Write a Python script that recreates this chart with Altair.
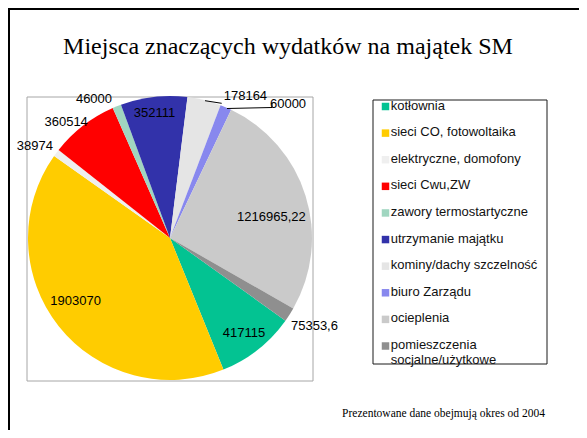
import math
import altair as alt
import pandas as pd

# ---- data ----
categories = ["kotłownia", "sieci CO, fotowoltaika", "elektryczne, domofony", "sieci Cwu,ZW",
              "zawory termostartyczne", "utrzymanie majątku", "kominy/dachy szczelność",
              "biuro Zarządu", "ocieplenia", "pomieszczenia socjalne/użytkowe"]
values = [417115, 1903070, 38974, 360514, 46000, 352111, 178164, 60000, 1216965.22, 75353.6]
legend_labels = ["kotłownia", "sieci CO, fotowoltaika", "elektryczne, domofony", "sieci Cwu,ZW",
                 "zawory termostartyczne", "utrzymanie majątku", "kominy/dachy szczelność",
                 "biuro Zarządu", "ocieplenia", "pomieszczenia\nsocjalne/użytkowe"]
colors = ["#03C392", "#FFCC00", "#EFEFEF", "#FF0000", "#A0D6C0",
          "#3232AA", "#E5E5E5", "#8888EE", "#CACACA", "#8F8F8F"]
value_labels = [str(v).replace(".", ",") for v in values]

title_text = "Miejsca znaczących wydatków na majątek SM"
footer_text = "Prezentowane dane obejmują okres od 2004"

df = pd.DataFrame({
    "cat": categories,
    "value": values,
    "idx": list(range(len(categories))),
    "label": value_labels,
    "legend": legend_labels,
})
one = pd.DataFrame({"a": [0]})

# ---- layout / style ----
CX, CY, R = 162, 230, 142
START = math.radians(125.6)
FONT = "Liberation Sans"
SERIF = "Liberation Serif"

theta = alt.Theta("value:Q", stack=True,
                  scale=alt.Scale(range=[START, START + 2 * math.pi]))
color = alt.Color("cat:N", scale=alt.Scale(domain=categories, range=colors), legend=None)
order = alt.Order("idx:Q")

# label placement: (radius, dx, dy) per slice index
label_pos = {
    0: (100, 12, 16),
    1: (100, -16, 1),
    2: (155, -11, 1),
    3: (155, -9, 7),
    4: (155, -18, 5),
    5: (100, -4, -26),
    6: (155, 38, 8),
    7: (155, 57, 8),
    8: (100, 6, 9),
    9: (155, 14, 4),
}

layers = []

# outer slide border (top and left)
layers.append(alt.Chart(one).mark_rule(color="black", strokeWidth=2).encode(
    x=alt.value(0), x2=alt.value(571), y=alt.value(1)))
layers.append(alt.Chart(one).mark_rule(color="black", strokeWidth=2).encode(
    x=alt.value(1), y=alt.value(0), y2=alt.value(422)))

# plot area box
layers.append(alt.Chart(one).mark_rect(fillOpacity=0, stroke="#A6A6A6", strokeWidth=1).encode(
    x=alt.value(19), x2=alt.value(305), y=alt.value(89), y2=alt.value(373)))

# pie
layers.append(alt.Chart(df).mark_arc(radius=R).encode(
    theta=theta, color=color, order=order, x=alt.value(CX), y=alt.value(CY)))

# value labels
for i, (rr, dx, dy) in label_pos.items():
    layers.append(alt.Chart(df).mark_text(
        radius=rr, dx=dx, dy=dy, font=FONT, fontSize=13, color="black",
        align="center", baseline="middle").encode(
        theta=theta, order=order, x=alt.value(CX), y=alt.value(CY),
        text=alt.condition(alt.datum.idx == i, alt.Text("label:N"), alt.value(""))))

# leader lines
layers.append(alt.Chart(one).mark_rule(color="black", strokeWidth=1).encode(
    x=alt.value(197), y=alt.value(92.7), x2=alt.value(213.7), y2=alt.value(95.3)))
layers.append(alt.Chart(one).mark_rule(color="black", strokeWidth=1).encode(
    x=alt.value(219), y=alt.value(100.5), x2=alt.value(264), y2=alt.value(99.5)))
layers.append(alt.Chart(one).mark_rule(color="black", strokeWidth=1).encode(
    x=alt.value(264), y=alt.value(99.5), x2=alt.value(264), y2=alt.value(95)))

# legend box
layers.append(alt.Chart(one).mark_rect(fill="white", stroke="#1A1A1A", strokeWidth=1).encode(
    x=alt.value(365), x2=alt.value(539), y=alt.value(92), y2=alt.value(356)))

ylegend = alt.Y("cat:N", scale=alt.Scale(type="point", domain=categories,
                                         range=[98.5, 338], padding=0), axis=None)
layers.append(alt.Chart(df).mark_square(size=56, opacity=1).encode(
    x=alt.value(377.5), y=ylegend, color=color))
layers.append(alt.Chart(df).mark_text(
    align="left", baseline="alphabetic", dy=3, font=FONT, fontSize=13,
    color="#111111", lineBreak="\n", lineHeight=14.5).encode(
    x=alt.value(382.7), y=ylegend, text="legend:N"))

# title and footer
layers.append(alt.Chart(one).mark_text(
    text=title_text, font=SERIF, fontSize=24, color="black",
    align="center", baseline="alphabetic").encode(x=alt.value(280), y=alt.value(46.3)))
layers.append(alt.Chart(one).mark_text(
    text=footer_text, font=SERIF, fontSize=11.5, color="black",
    align="center", baseline="alphabetic").encode(x=alt.value(435.5), y=alt.value(409)))

chart = alt.layer(*layers).properties(
    width=571, height=422, padding=0,
    autosize=alt.AutoSizeParams(type="none"),
    background="white",
).configure_view(stroke=None)

chart.save("out.html", embed_options={"renderer": "svg", "actions": False})
